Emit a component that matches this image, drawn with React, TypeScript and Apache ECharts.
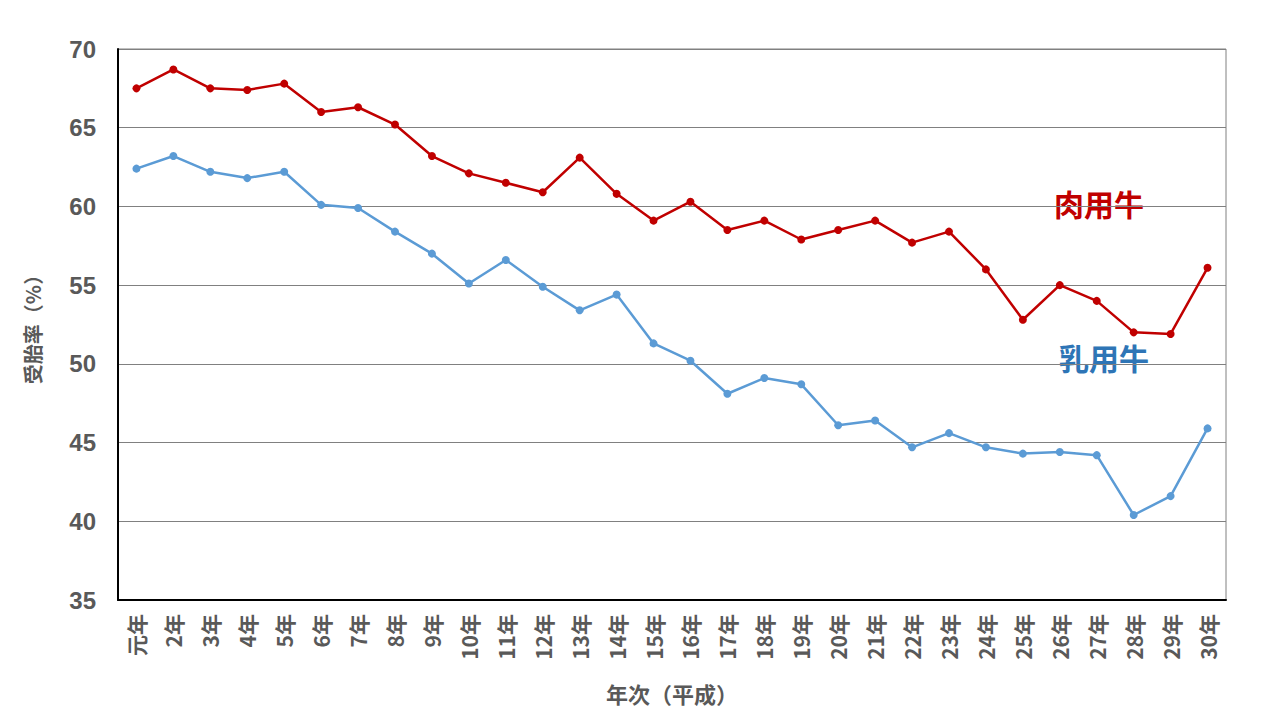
import React, { useEffect, useRef } from "react";
import * as echarts from "echarts";

const categories = ["元年","2年","3年","4年","5年","6年","7年","8年","9年","10年","11年","12年","13年","14年","15年","16年","17年","18年","19年","20年","21年","22年","23年","24年","25年","26年","27年","28年","29年","30年"];
const beefRate = [67.5,68.7,67.5,67.4,67.8,66.0,66.3,65.2,63.2,62.1,61.5,60.9,63.1,60.8,59.1,60.3,58.5,59.1,57.9,58.5,59.1,57.7,58.4,56.0,52.8,55.0,54.0,52.0,51.9,56.1];
const dairyRate = [62.4,63.2,62.2,61.8,62.2,60.1,59.9,58.4,57.0,55.1,56.6,54.9,53.4,54.4,51.3,50.2,48.1,49.1,48.7,46.1,46.4,44.7,45.6,44.7,44.3,44.4,44.2,40.4,41.6,45.9];
const yTicks = { min: 35, max: 70, interval: 5 };
const seriesNames = ["肉用牛", "乳用牛"];

export default function App() {
  const ref = useRef<HTMLDivElement>(null);
  useEffect(() => {
    const chart = echarts.init(ref.current!, null, { renderer: "svg" });
    const font = "'Noto Sans CJK JP', 'Noto Sans', sans-serif";
    chart.setOption({
      animation: false,
      backgroundColor: "#ffffff",
      grid: { left: 118, top: 49, right: 54, bottom: 120, show: true, borderColor: "#808080", borderWidth: 1 },
      xAxis: {
        type: "category",
        data: categories,
        boundaryGap: true,
        axisLine: { lineStyle: { color: "#000000", width: 2 } },
        axisTick: { show: false },
        axisLabel: { rotate: 90, color: "#595959", fontSize: 21, fontWeight: "bold", fontFamily: font, margin: 14, interval: 0 },
        name: "年次（平成）",
        nameLocation: "middle",
        nameGap: 82,
        nameTextStyle: { color: "#595959", fontSize: 22, fontWeight: "bold", fontFamily: font },
      },
      yAxis: {
        type: "value",
        min: yTicks.min,
        max: yTicks.max,
        interval: yTicks.interval,
        axisLine: { show: true, lineStyle: { color: "#000000", width: 2 } },
        axisTick: { show: false },
        splitLine: { lineStyle: { color: "#808080", width: 1 } },
        axisLabel: { color: "#595959", fontSize: 24, fontWeight: "bold", fontFamily: "'Liberation Sans', Arial, sans-serif", margin: 22 },
        name: "受胎率（%）",
        nameLocation: "middle",
        nameGap: 76,
        nameTextStyle: { color: "#595959", fontSize: 20, fontWeight: "bold", fontFamily: font },
      },
      series: [
        {
          name: seriesNames[0], type: "line", data: beefRate, symbol: "circle", symbolSize: 8,
          lineStyle: { color: "#C00000", width: 2.5 }, itemStyle: { color: "#C00000" },
        },
        {
          name: seriesNames[1], type: "line", data: dairyRate, symbol: "circle", symbolSize: 8,
          lineStyle: { color: "#5B9BD5", width: 2.5 }, itemStyle: { color: "#5B9BD5" },
        },
      ],
      graphic: [
        { type: "text", left: 1054, top: 188, style: { text: seriesNames[0], fill: "#C00000", fontSize: 30, fontWeight: "bold", fontFamily: font } },
        { type: "text", left: 1059, top: 342, style: { text: seriesNames[1], fill: "#2E75B6", fontSize: 30, fontWeight: "bold", fontFamily: font } },
      ],
    });
    return () => chart.dispose();
  }, []);
  return <div ref={ref} style={{ position: "fixed", left: 0, top: 0, width: 1280, height: 720 }} />;
}
